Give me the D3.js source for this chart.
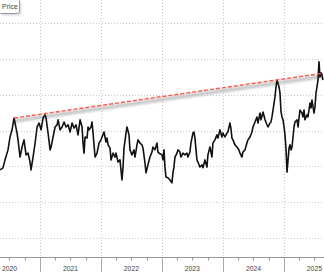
<!DOCTYPE html>
<html>
<head>
<meta charset="utf-8">
<script src="https://cdn.jsdelivr.net/npm/d3@7"></script>
<style>
  body { margin: 0; background: #fff; }
  svg { display: block; font-family: "Liberation Sans", Arial, sans-serif; }
</style>
</head>
<body>
<div class="chart"></div>
<script>
// decimal years
const priceYears = [
  2020.344, 2020.393, 2020.426, 2020.475, 2020.508, 2020.541, 2020.574, 2020.590, 2020.623, 2020.639,
  2020.672, 2020.705, 2020.737, 2020.770, 2020.803, 2020.836, 2020.852, 2020.885, 2020.918, 2020.951,
  2020.983, 2021.016, 2021.049, 2021.082, 2021.098, 2021.131, 2021.164, 2021.180, 2021.213, 2021.246,
  2021.279, 2021.295, 2021.328, 2021.361, 2021.393, 2021.426, 2021.459, 2021.492, 2021.525, 2021.557,
  2021.590, 2021.623, 2021.656, 2021.689, 2021.705, 2021.721, 2021.738, 2021.770, 2021.787, 2021.803,
  2021.836, 2021.852, 2021.869, 2021.902, 2021.934, 2021.967, 2022.000, 2022.016, 2022.049, 2022.082,
  2022.098, 2022.115, 2022.148, 2022.164, 2022.197, 2022.230, 2022.246, 2022.279, 2022.311, 2022.344,
  2022.361, 2022.377, 2022.410, 2022.426, 2022.459, 2022.475, 2022.508, 2022.541, 2022.557, 2022.590,
  2022.607, 2022.639, 2022.672, 2022.689, 2022.721, 2022.738, 2022.770, 2022.803, 2022.836, 2022.852,
  2022.885, 2022.918, 2022.934, 2022.967, 2023.000, 2023.016, 2023.033, 2023.049, 2023.066, 2023.098,
  2023.131, 2023.164, 2023.180, 2023.197, 2023.213, 2023.246, 2023.262, 2023.295, 2023.311, 2023.344,
  2023.377, 2023.410, 2023.426, 2023.459, 2023.475, 2023.508, 2023.525, 2023.541, 2023.574, 2023.590,
  2023.623, 2023.656, 2023.672, 2023.705, 2023.738, 2023.754, 2023.787, 2023.820, 2023.836, 2023.869,
  2023.902, 2023.918, 2023.951, 2023.984, 2024.000, 2024.033, 2024.066, 2024.082, 2024.115, 2024.131,
  2024.148, 2024.164, 2024.197, 2024.230, 2024.262, 2024.279, 2024.311, 2024.328, 2024.361, 2024.393,
  2024.410, 2024.443, 2024.475, 2024.492, 2024.525, 2024.557, 2024.574, 2024.607, 2024.623, 2024.656,
  2024.689, 2024.721, 2024.738, 2024.770, 2024.787, 2024.803, 2024.820, 2024.852, 2024.869, 2024.885,
  2024.918, 2024.934, 2024.951, 2024.967, 2024.984, 2025.000, 2025.016, 2025.033, 2025.049, 2025.066,
  2025.082, 2025.098, 2025.115, 2025.131, 2025.164, 2025.180, 2025.213, 2025.230, 2025.246, 2025.262,
  2025.295, 2025.311, 2025.328, 2025.344, 2025.377, 2025.393, 2025.426, 2025.443, 2025.459, 2025.492,
  2025.508, 2025.525, 2025.541, 2025.557, 2025.574, 2025.590, 2025.607, 2025.623, 2025.639
];

const priceValues = [
  119.0, 119.6, 121.8, 124.6, 128.2, 130.2, 133.5, 132.1, 129.3, 127.4,
  122.6, 125.4, 127.4, 123.2, 123.7, 121.2, 119.0, 122.6, 126.5, 131.0,
  132.1, 130.2, 133.5, 134.4, 133.5, 129.3, 124.6, 125.4, 128.2, 131.0,
  131.6, 133.0, 130.2, 131.0, 132.4, 131.0, 131.6, 129.6, 132.1, 130.7,
  131.6, 128.8, 133.0, 131.0, 126.5, 123.7, 128.2, 127.9, 131.0, 130.2,
  131.0, 132.4, 129.3, 122.6, 123.7, 126.5, 127.4, 128.2, 129.6, 126.8,
  127.9, 126.0, 125.1, 121.8, 123.7, 122.6, 123.7, 121.2, 121.8, 116.2,
  119.8, 125.1, 129.3, 131.0, 128.8, 124.6, 123.2, 124.6, 122.6, 126.0,
  127.4, 126.5, 126.0, 125.1, 121.0, 118.2, 120.4, 122.6, 124.0, 125.4,
  124.6, 126.5, 124.0, 123.5, 123.2, 121.8, 124.6, 119.8, 117.0, 116.8,
  116.2, 115.4, 118.2, 119.8, 122.6, 123.7, 124.6, 124.0, 122.6, 123.7,
  123.2, 123.7, 122.6, 124.0, 126.5, 129.3, 129.6, 127.9, 121.8, 121.2,
  119.8, 120.4, 119.6, 121.8, 119.8, 123.2, 125.4, 122.6, 126.5, 127.4,
  128.8, 127.9, 130.2, 128.2, 129.3, 128.2, 129.3, 129.6, 132.1, 130.7,
  127.9, 127.4, 126.0, 125.4, 124.6, 123.7, 122.6, 124.0, 124.6, 126.5,
  127.4, 128.2, 129.6, 131.0, 132.4, 133.8, 132.1, 134.9, 133.0, 135.2,
  133.0, 131.6, 131.0, 132.1, 132.4, 133.8, 135.7, 139.4, 142.2, 144.1,
  142.2, 140.5, 135.2, 133.8, 133.0, 131.0, 128.8, 124.6, 118.4, 121.8,
  125.1, 126.0, 124.6, 125.4, 131.0, 132.4, 133.0, 131.0, 133.5, 135.7,
  134.9, 133.8, 135.7, 133.0, 134.4, 133.8, 137.7, 136.3, 138.5, 134.9,
  136.6, 140.5, 142.2, 144.1, 149.2, 145.0, 146.1, 145.5, 144.1
];

// resistance line through the 2020 and 2024 highs
const trendYears = [2020.574, 2025.639];
const trendValues = [133.5, 146.0];

const yearLabels = ["2020", "2021", "2022", "2023", "2024", "2025"];
const gridValues = [100, 110, 120, 130, 140, 150, 160];

function yearToDate(t) {
  const y = Math.floor(t);
  const start = Date.UTC(y, 0, 1);
  const end = Date.UTC(y + 1, 0, 1);
  return new Date(start + (t - y) * (end - start));
}

const width = 324, height = 272;
const axisY = 257;

const svg = d3.select(".chart")
  .append("svg")
    .attr("width", width)
    .attr("height", height);

const x = d3.scaleUtc()
  .domain([yearToDate(2020.344), yearToDate(2025.656)])
  .range([0, width]);

const y = d3.scaleLinear()
  .domain([94.4, 166.47])
  .range([axisY + 1, 0]);

// horizontal dotted gridlines
svg.append("g")
  .selectAll("line")
  .data(gridValues)
  .join("line")
    .attr("x1", 0)
    .attr("x2", width)
    .attr("y1", d => Math.round(y(d)) + 0.5)
    .attr("y2", d => Math.round(y(d)) + 0.5)
    .attr("stroke", "#c8c8c8")
    .attr("stroke-dasharray", "1,2");

// vertical dotted gridlines at year starts
const yearStarts = yearLabels.slice(1).map(d => new Date(Date.UTC(+d, 0, 1)));
svg.append("g")
  .selectAll("line")
  .data(yearStarts)
  .join("line")
    .attr("x1", d => Math.round(x(d)) + 0.5)
    .attr("x2", d => Math.round(x(d)) + 0.5)
    .attr("y1", 0)
    .attr("y2", axisY)
    .attr("stroke", "#c8c8c8")
    .attr("stroke-dasharray", "1,2");

// x axis: quarter ticks, year separators and centered year labels
const xAxis = svg.append("g")
  .attr("transform", "translate(0," + (axisY + 0.5) + ")");

xAxis.append("line")
  .attr("x1", 0)
  .attr("x2", width)
  .attr("stroke", "#999");

xAxis.selectAll(".qtick")
  .data(d3.utcMonth.every(3).range(x.domain()[0], x.domain()[1]).filter(d => d.getUTCMonth() != 0))
  .join("line")
    .attr("class", "qtick")
    .attr("x1", d => Math.round(x(d)) + 0.5)
    .attr("x2", d => Math.round(x(d)) + 0.5)
    .attr("y1", 0)
    .attr("y2", 3)
    .attr("stroke", "#999");

xAxis.selectAll(".ytick")
  .data(yearStarts)
  .join("line")
    .attr("class", "ytick")
    .attr("x1", d => Math.round(x(d)) + 0.5)
    .attr("x2", d => Math.round(x(d)) + 0.5)
    .attr("y1", 0)
    .attr("y2", 16)
    .attr("stroke", "#aaa");

xAxis.selectAll("text")
  .data(yearLabels)
  .join("text")
    .attr("x", d => x(new Date(Date.UTC(+d, 6, 2))))
    .attr("y", 13)
    .attr("text-anchor", "middle")
    .attr("font-size", "6.8px")
    .attr("fill", "#444")
    .text(d => d);

// trend line shadow + red dashed line
const trend = trendYears.map((t, i) => ({date: yearToDate(t), value: trendValues[i]}));
const trendLine = d3.line()
  .x(d => x(d.date))
  .y(d => y(d.value));

const defs = svg.append("defs");
defs.append("filter")
  .attr("id", "soft")
  .append("feGaussianBlur")
    .attr("stdDeviation", 1);
defs.append("filter")
  .attr("id", "softer")
  .append("feGaussianBlur")
    .attr("stdDeviation", 1.3);

svg.append("path")
  .datum(trend)
  .attr("d", trendLine)
  .attr("transform", "translate(0,3)")
  .attr("fill", "none")
  .attr("stroke", "#b8b8b8")
  .attr("stroke-width", 4)
  .attr("opacity", 0.75)
  .attr("filter", "url(#softer)");

// price line
const prices = priceYears.map((t, i) => ({date: yearToDate(t), value: priceValues[i]}));
svg.append("path")
  .datum(prices)
  .attr("fill", "none")
  .attr("stroke", "#111")
  .attr("stroke-width", 1.6)
  .attr("stroke-linejoin", "round")
  .attr("d", d3.line()
    .x(d => x(d.date))
    .y(d => y(d.value)));

svg.append("path")
  .datum(trend)
  .attr("d", trendLine)
  .attr("fill", "none")
  .attr("stroke", "#ff5a4f")
  .attr("stroke-width", 1.4)
  .attr("stroke-dasharray", "4,2");

// legend box
const legend = svg.append("g");
legend.append("rect")
  .attr("x", 1.5)
  .attr("y", 1.5)
  .attr("width", 20)
  .attr("height", 14)
  .attr("rx", 2)
  .attr("fill", "#ddd")
  .attr("filter", "url(#soft)");
legend.append("rect")
  .attr("x", -1.5)
  .attr("y", -1.5)
  .attr("width", 21)
  .attr("height", 15)
  .attr("rx", 2)
  .attr("fill", "#fff")
  .attr("stroke", "#999");
legend.append("text")
  .attr("x", 2)
  .attr("y", 9)
  .attr("font-size", "7px")
  .attr("fill", "#444")
  .text("Price");
</script>
</body>
</html>
